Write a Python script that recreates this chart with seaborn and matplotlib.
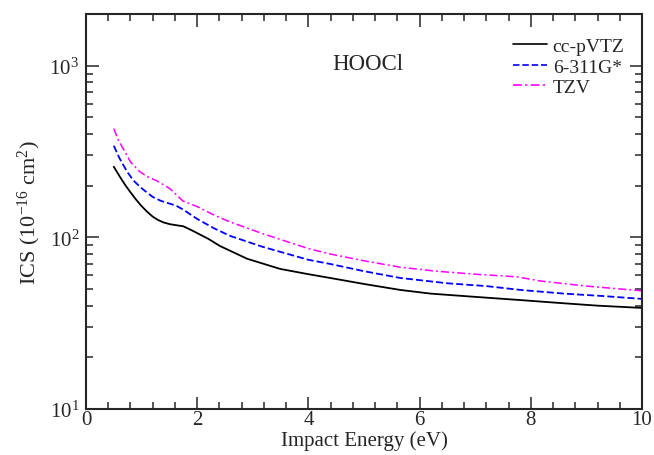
import pandas as pd
import seaborn as sns
import matplotlib.pyplot as plt
from matplotlib.ticker import MultipleLocator

# values (energy in eV, ICS in 1e-16 cm^2)
e_vtz = [0.5, 0.6, 0.7, 0.8, 0.9, 1.0, 1.1, 1.2, 1.3, 1.4, 1.5, 1.6, 1.75, 1.9, 2.2, 2.41, 2.9, 3.49, 4.0, 4.39, 5.0, 5.65, 6.2, 7.0, 7.86, 8.5, 9.2, 10.0]
ics_vtz = [258, 228, 203, 183, 166, 152, 141, 132, 126, 122, 119.5, 118, 116, 110, 98, 89, 75, 65.5, 61, 58, 53.5, 49.4, 47, 45, 43, 41.5, 40, 38.8]

e_631 = [0.5, 0.6, 0.74, 0.85, 0.97, 1.1, 1.2, 1.35, 1.51, 1.62, 1.75, 2.0, 2.3, 2.59, 3.18, 4.0, 4.39, 5.0, 5.65, 6.5, 7.2, 7.81, 8.6, 9.3, 10.0]
ics_631 = [342, 290, 241, 215, 197, 182, 172, 163, 157, 153, 145, 128, 113, 102, 88, 74, 70, 63.5, 58, 54, 52, 49.4, 47, 45.5, 43.8]

e_tzv = [0.5, 0.58, 0.67, 0.8, 0.97, 1.1, 1.28, 1.4, 1.51, 1.62, 1.74, 2.0, 2.3, 2.59, 3.18, 4.0, 4.39, 5.0, 5.65, 6.3, 7.0, 7.75, 8.17, 9.0, 10.0]
ics_tzv = [430, 370, 328, 275, 241, 226, 213, 202, 192, 178, 163, 151, 135, 123, 105, 86, 80, 73, 67, 63.5, 61, 58.9, 55.7, 52, 48.8]

sns.set_theme(style="ticks")
plt.rcParams["font.family"] = ["Liberation Serif", "DejaVu Serif"]
plt.rcParams["mathtext.fontset"] = "custom"
plt.rcParams["mathtext.rm"] = "Liberation Serif"
plt.rcParams["mathtext.it"] = "Liberation Serif:italic"
plt.rcParams["mathtext.default"] = "regular"

fig = plt.figure(figsize=(6.54, 4.56), dpi=100)
ax = fig.add_axes([0.1315, 0.1009, 0.8502, 0.8661])

df1 = pd.DataFrame({"E": e_vtz, "ICS": ics_vtz})
df2 = pd.DataFrame({"E": e_631, "ICS": ics_631})
df3 = pd.DataFrame({"E": e_tzv, "ICS": ics_tzv})

sns.lineplot(data=df1, x="E", y="ICS", ax=ax, color="black", lw=1.3, label="cc-pVTZ")
sns.lineplot(data=df2, x="E", y="ICS", ax=ax, color="#0000ff", lw=1.3, label="6-311G*")
sns.lineplot(data=df3, x="E", y="ICS", ax=ax, color="#ff00ff", lw=1.1, label="TZV")
ax.lines[1].set_dashes([3.9, 1.7])
ax.lines[2].set_dashes([5.3, 2, 1.3, 2])

ax.set_yscale("log")
ax.set_xlim(0, 10)
ax.set_ylim(10, 2000)
ax.xaxis.set_major_locator(MultipleLocator(2))
ax.xaxis.set_minor_locator(MultipleLocator(0.4))

ax.tick_params(which="both", direction="in", top=True, right=True, labelsize=15, width=1.1)
ax.tick_params(axis="x", pad=1)
ax.tick_params(axis="y", pad=5)
ax.tick_params(which="major", length=9)
ax.tick_params(which="minor", length=5)
for s in ax.spines.values():
    s.set_linewidth(1.5)

ax.set_xlabel("Impact Energy (eV)", fontsize=15)
ax.set_ylabel("ICS (10$^{-16}$ cm$^{2}$)", fontsize=16)
ax.xaxis.set_label_coords(0.5, -0.053)
ax.yaxis.set_label_coords(-0.077, 0.5)
ax.text(5.07, 1030, "HOOCl", fontsize=16.5, ha="center", va="center")

leg = ax.legend(loc="upper right", bbox_to_anchor=(1.0, 0.985), frameon=False, fontsize=14,
                handlelength=1.75, borderaxespad=0.6, borderpad=0.3, labelspacing=0.15,
                handletextpad=0.3)
for h in leg.get_lines():
    h.set_linewidth(1.2)

fig.savefig("out.png", dpi=100)
